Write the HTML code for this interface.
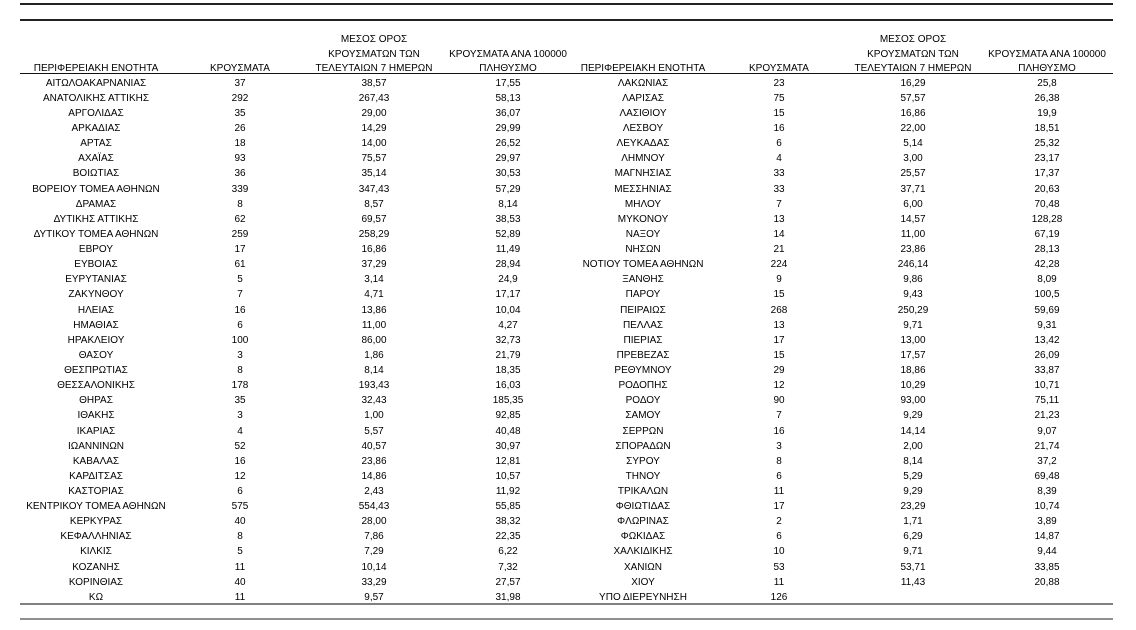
<!DOCTYPE html>
<html><head><meta charset="utf-8"><style>
html,body{margin:0;padding:0;background:#fff;}
body{width:1136px;height:630px;position:relative;overflow:hidden;font-family:"Liberation Sans","DejaVu Sans",sans-serif;font-size:10px;color:#000;}
.ln{position:absolute;left:20px;width:1093px;}
.r{position:absolute;left:0;width:1136px;height:15px;}
.r span{position:absolute;top:0;width:200px;text-align:center;line-height:15px;white-space:nowrap;}
.a{left:-4px}.b{left:140px}.c{left:274px}.d{left:408px}
.e{left:543px}.f{left:679px}.g{left:813px}.h{left:947px}
</style></head><body>
<div class="ln" style="top:3px;height:1.5px;background:#222"></div>
<div class="ln" style="top:19px;height:1.5px;background:#222"></div>
<div class="ln" style="top:73px;height:1.2px;background:#111"></div>
<div class="ln" style="top:602.5px;height:2px;background:#808080"></div>
<div class="ln" style="top:617.5px;height:2px;background:#909090"></div>

<div class="r" style="top:31.7px"><span class="c">ΜΕΣΟΣ ΟΡΟΣ</span><span class="g">ΜΕΣΟΣ ΟΡΟΣ</span></div>
<div class="r" style="top:46.5px"><span class="c">ΚΡΟΥΣΜΑΤΩΝ ΤΩΝ</span><span class="d">ΚΡΟΥΣΜΑΤΑ ΑΝΑ 100000</span><span class="g">ΚΡΟΥΣΜΑΤΩΝ ΤΩΝ</span><span class="h">ΚΡΟΥΣΜΑΤΑ ΑΝΑ 100000</span></div>
<div class="r" style="top:61.3px"><span class="a">ΠΕΡΙΦΕΡΕΙΑΚΗ ΕΝΟΤΗΤΑ</span><span class="b">ΚΡΟΥΣΜΑΤΑ</span><span class="c">ΤΕΛΕΥΤΑΙΩΝ 7 ΗΜΕΡΩΝ</span><span class="d">ΠΛΗΘΥΣΜΟ</span><span class="e">ΠΕΡΙΦΕΡΕΙΑΚΗ ΕΝΟΤΗΤΑ</span><span class="f">ΚΡΟΥΣΜΑΤΑ</span><span class="g">ΤΕΛΕΥΤΑΙΩΝ 7 ΗΜΕΡΩΝ</span><span class="h">ΠΛΗΘΥΣΜΟ</span></div>

<div class="r" style="top:75.7px"><span class="a">ΑΙΤΩΛΟΑΚΑΡΝΑΝΙΑΣ</span><span class="b">37</span><span class="c">38,57</span><span class="d">17,55</span><span class="e">ΛΑΚΩΝΙΑΣ</span><span class="f">23</span><span class="g">16,29</span><span class="h">25,8</span></div>
<div class="r" style="top:90.8px"><span class="a">ΑΝΑΤΟΛΙΚΗΣ ΑΤΤΙΚΗΣ</span><span class="b">292</span><span class="c">267,43</span><span class="d">58,13</span><span class="e">ΛΑΡΙΣΑΣ</span><span class="f">75</span><span class="g">57,57</span><span class="h">26,38</span></div>
<div class="r" style="top:105.9px"><span class="a">ΑΡΓΟΛΙΔΑΣ</span><span class="b">35</span><span class="c">29,00</span><span class="d">36,07</span><span class="e">ΛΑΣΙΘΙΟΥ</span><span class="f">15</span><span class="g">16,86</span><span class="h">19,9</span></div>
<div class="r" style="top:121.1px"><span class="a">ΑΡΚΑΔΙΑΣ</span><span class="b">26</span><span class="c">14,29</span><span class="d">29,99</span><span class="e">ΛΕΣΒΟΥ</span><span class="f">16</span><span class="g">22,00</span><span class="h">18,51</span></div>
<div class="r" style="top:136.2px"><span class="a">ΑΡΤΑΣ</span><span class="b">18</span><span class="c">14,00</span><span class="d">26,52</span><span class="e">ΛΕΥΚΑΔΑΣ</span><span class="f">6</span><span class="g">5,14</span><span class="h">25,32</span></div>
<div class="r" style="top:151.3px"><span class="a">ΑΧΑΪΑΣ</span><span class="b">93</span><span class="c">75,57</span><span class="d">29,97</span><span class="e">ΛΗΜΝΟΥ</span><span class="f">4</span><span class="g">3,00</span><span class="h">23,17</span></div>
<div class="r" style="top:166.4px"><span class="a">ΒΟΙΩΤΙΑΣ</span><span class="b">36</span><span class="c">35,14</span><span class="d">30,53</span><span class="e">ΜΑΓΝΗΣΙΑΣ</span><span class="f">33</span><span class="g">25,57</span><span class="h">17,37</span></div>
<div class="r" style="top:181.5px"><span class="a">ΒΟΡΕΙΟΥ ΤΟΜΕΑ ΑΘΗΝΩΝ</span><span class="b">339</span><span class="c">347,43</span><span class="d">57,29</span><span class="e">ΜΕΣΣΗΝΙΑΣ</span><span class="f">33</span><span class="g">37,71</span><span class="h">20,63</span></div>
<div class="r" style="top:196.7px"><span class="a">ΔΡΑΜΑΣ</span><span class="b">8</span><span class="c">8,57</span><span class="d">8,14</span><span class="e">ΜΗΛΟΥ</span><span class="f">7</span><span class="g">6,00</span><span class="h">70,48</span></div>
<div class="r" style="top:211.8px"><span class="a">ΔΥΤΙΚΗΣ ΑΤΤΙΚΗΣ</span><span class="b">62</span><span class="c">69,57</span><span class="d">38,53</span><span class="e">ΜΥΚΟΝΟΥ</span><span class="f">13</span><span class="g">14,57</span><span class="h">128,28</span></div>
<div class="r" style="top:226.9px"><span class="a">ΔΥΤΙΚΟΥ ΤΟΜΕΑ ΑΘΗΝΩΝ</span><span class="b">259</span><span class="c">258,29</span><span class="d">52,89</span><span class="e">ΝΑΞΟΥ</span><span class="f">14</span><span class="g">11,00</span><span class="h">67,19</span></div>
<div class="r" style="top:242.0px"><span class="a">ΕΒΡΟΥ</span><span class="b">17</span><span class="c">16,86</span><span class="d">11,49</span><span class="e">ΝΗΣΩΝ</span><span class="f">21</span><span class="g">23,86</span><span class="h">28,13</span></div>
<div class="r" style="top:257.1px"><span class="a">ΕΥΒΟΙΑΣ</span><span class="b">61</span><span class="c">37,29</span><span class="d">28,94</span><span class="e">ΝΟΤΙΟΥ ΤΟΜΕΑ ΑΘΗΝΩΝ</span><span class="f">224</span><span class="g">246,14</span><span class="h">42,28</span></div>
<div class="r" style="top:272.3px"><span class="a">ΕΥΡΥΤΑΝΙΑΣ</span><span class="b">5</span><span class="c">3,14</span><span class="d">24,9</span><span class="e">ΞΑΝΘΗΣ</span><span class="f">9</span><span class="g">9,86</span><span class="h">8,09</span></div>
<div class="r" style="top:287.4px"><span class="a">ΖΑΚΥΝΘΟΥ</span><span class="b">7</span><span class="c">4,71</span><span class="d">17,17</span><span class="e">ΠΑΡΟΥ</span><span class="f">15</span><span class="g">9,43</span><span class="h">100,5</span></div>
<div class="r" style="top:302.5px"><span class="a">ΗΛΕΙΑΣ</span><span class="b">16</span><span class="c">13,86</span><span class="d">10,04</span><span class="e">ΠΕΙΡΑΙΩΣ</span><span class="f">268</span><span class="g">250,29</span><span class="h">59,69</span></div>
<div class="r" style="top:317.6px"><span class="a">ΗΜΑΘΙΑΣ</span><span class="b">6</span><span class="c">11,00</span><span class="d">4,27</span><span class="e">ΠΕΛΛΑΣ</span><span class="f">13</span><span class="g">9,71</span><span class="h">9,31</span></div>
<div class="r" style="top:332.7px"><span class="a">ΗΡΑΚΛΕΙΟΥ</span><span class="b">100</span><span class="c">86,00</span><span class="d">32,73</span><span class="e">ΠΙΕΡΙΑΣ</span><span class="f">17</span><span class="g">13,00</span><span class="h">13,42</span></div>
<div class="r" style="top:347.9px"><span class="a">ΘΑΣΟΥ</span><span class="b">3</span><span class="c">1,86</span><span class="d">21,79</span><span class="e">ΠΡΕΒΕΖΑΣ</span><span class="f">15</span><span class="g">17,57</span><span class="h">26,09</span></div>
<div class="r" style="top:363.0px"><span class="a">ΘΕΣΠΡΩΤΙΑΣ</span><span class="b">8</span><span class="c">8,14</span><span class="d">18,35</span><span class="e">ΡΕΘΥΜΝΟΥ</span><span class="f">29</span><span class="g">18,86</span><span class="h">33,87</span></div>
<div class="r" style="top:378.1px"><span class="a">ΘΕΣΣΑΛΟΝΙΚΗΣ</span><span class="b">178</span><span class="c">193,43</span><span class="d">16,03</span><span class="e">ΡΟΔΟΠΗΣ</span><span class="f">12</span><span class="g">10,29</span><span class="h">10,71</span></div>
<div class="r" style="top:393.2px"><span class="a">ΘΗΡΑΣ</span><span class="b">35</span><span class="c">32,43</span><span class="d">185,35</span><span class="e">ΡΟΔΟΥ</span><span class="f">90</span><span class="g">93,00</span><span class="h">75,11</span></div>
<div class="r" style="top:408.3px"><span class="a">ΙΘΑΚΗΣ</span><span class="b">3</span><span class="c">1,00</span><span class="d">92,85</span><span class="e">ΣΑΜΟΥ</span><span class="f">7</span><span class="g">9,29</span><span class="h">21,23</span></div>
<div class="r" style="top:423.5px"><span class="a">ΙΚΑΡΙΑΣ</span><span class="b">4</span><span class="c">5,57</span><span class="d">40,48</span><span class="e">ΣΕΡΡΩΝ</span><span class="f">16</span><span class="g">14,14</span><span class="h">9,07</span></div>
<div class="r" style="top:438.6px"><span class="a">ΙΩΑΝΝΙΝΩΝ</span><span class="b">52</span><span class="c">40,57</span><span class="d">30,97</span><span class="e">ΣΠΟΡΑΔΩΝ</span><span class="f">3</span><span class="g">2,00</span><span class="h">21,74</span></div>
<div class="r" style="top:453.7px"><span class="a">ΚΑΒΑΛΑΣ</span><span class="b">16</span><span class="c">23,86</span><span class="d">12,81</span><span class="e">ΣΥΡΟΥ</span><span class="f">8</span><span class="g">8,14</span><span class="h">37,2</span></div>
<div class="r" style="top:468.8px"><span class="a">ΚΑΡΔΙΤΣΑΣ</span><span class="b">12</span><span class="c">14,86</span><span class="d">10,57</span><span class="e">ΤΗΝΟΥ</span><span class="f">6</span><span class="g">5,29</span><span class="h">69,48</span></div>
<div class="r" style="top:483.9px"><span class="a">ΚΑΣΤΟΡΙΑΣ</span><span class="b">6</span><span class="c">2,43</span><span class="d">11,92</span><span class="e">ΤΡΙΚΑΛΩΝ</span><span class="f">11</span><span class="g">9,29</span><span class="h">8,39</span></div>
<div class="r" style="top:499.1px"><span class="a">ΚΕΝΤΡΙΚΟΥ ΤΟΜΕΑ ΑΘΗΝΩΝ</span><span class="b">575</span><span class="c">554,43</span><span class="d">55,85</span><span class="e">ΦΘΙΩΤΙΔΑΣ</span><span class="f">17</span><span class="g">23,29</span><span class="h">10,74</span></div>
<div class="r" style="top:514.2px"><span class="a">ΚΕΡΚΥΡΑΣ</span><span class="b">40</span><span class="c">28,00</span><span class="d">38,32</span><span class="e">ΦΛΩΡΙΝΑΣ</span><span class="f">2</span><span class="g">1,71</span><span class="h">3,89</span></div>
<div class="r" style="top:529.3px"><span class="a">ΚΕΦΑΛΛΗΝΙΑΣ</span><span class="b">8</span><span class="c">7,86</span><span class="d">22,35</span><span class="e">ΦΩΚΙΔΑΣ</span><span class="f">6</span><span class="g">6,29</span><span class="h">14,87</span></div>
<div class="r" style="top:544.4px"><span class="a">ΚΙΛΚΙΣ</span><span class="b">5</span><span class="c">7,29</span><span class="d">6,22</span><span class="e">ΧΑΛΚΙΔΙΚΗΣ</span><span class="f">10</span><span class="g">9,71</span><span class="h">9,44</span></div>
<div class="r" style="top:559.5px"><span class="a">ΚΟΖΑΝΗΣ</span><span class="b">11</span><span class="c">10,14</span><span class="d">7,32</span><span class="e">ΧΑΝΙΩΝ</span><span class="f">53</span><span class="g">53,71</span><span class="h">33,85</span></div>
<div class="r" style="top:574.7px"><span class="a">ΚΟΡΙΝΘΙΑΣ</span><span class="b">40</span><span class="c">33,29</span><span class="d">27,57</span><span class="e">ΧΙΟΥ</span><span class="f">11</span><span class="g">11,43</span><span class="h">20,88</span></div>
<div class="r" style="top:589.8px"><span class="a">ΚΩ</span><span class="b">11</span><span class="c">9,57</span><span class="d">31,98</span><span class="e">ΥΠΟ ΔΙΕΡΕΥΝΗΣΗ</span><span class="f">126</span></div>
</body></html>
